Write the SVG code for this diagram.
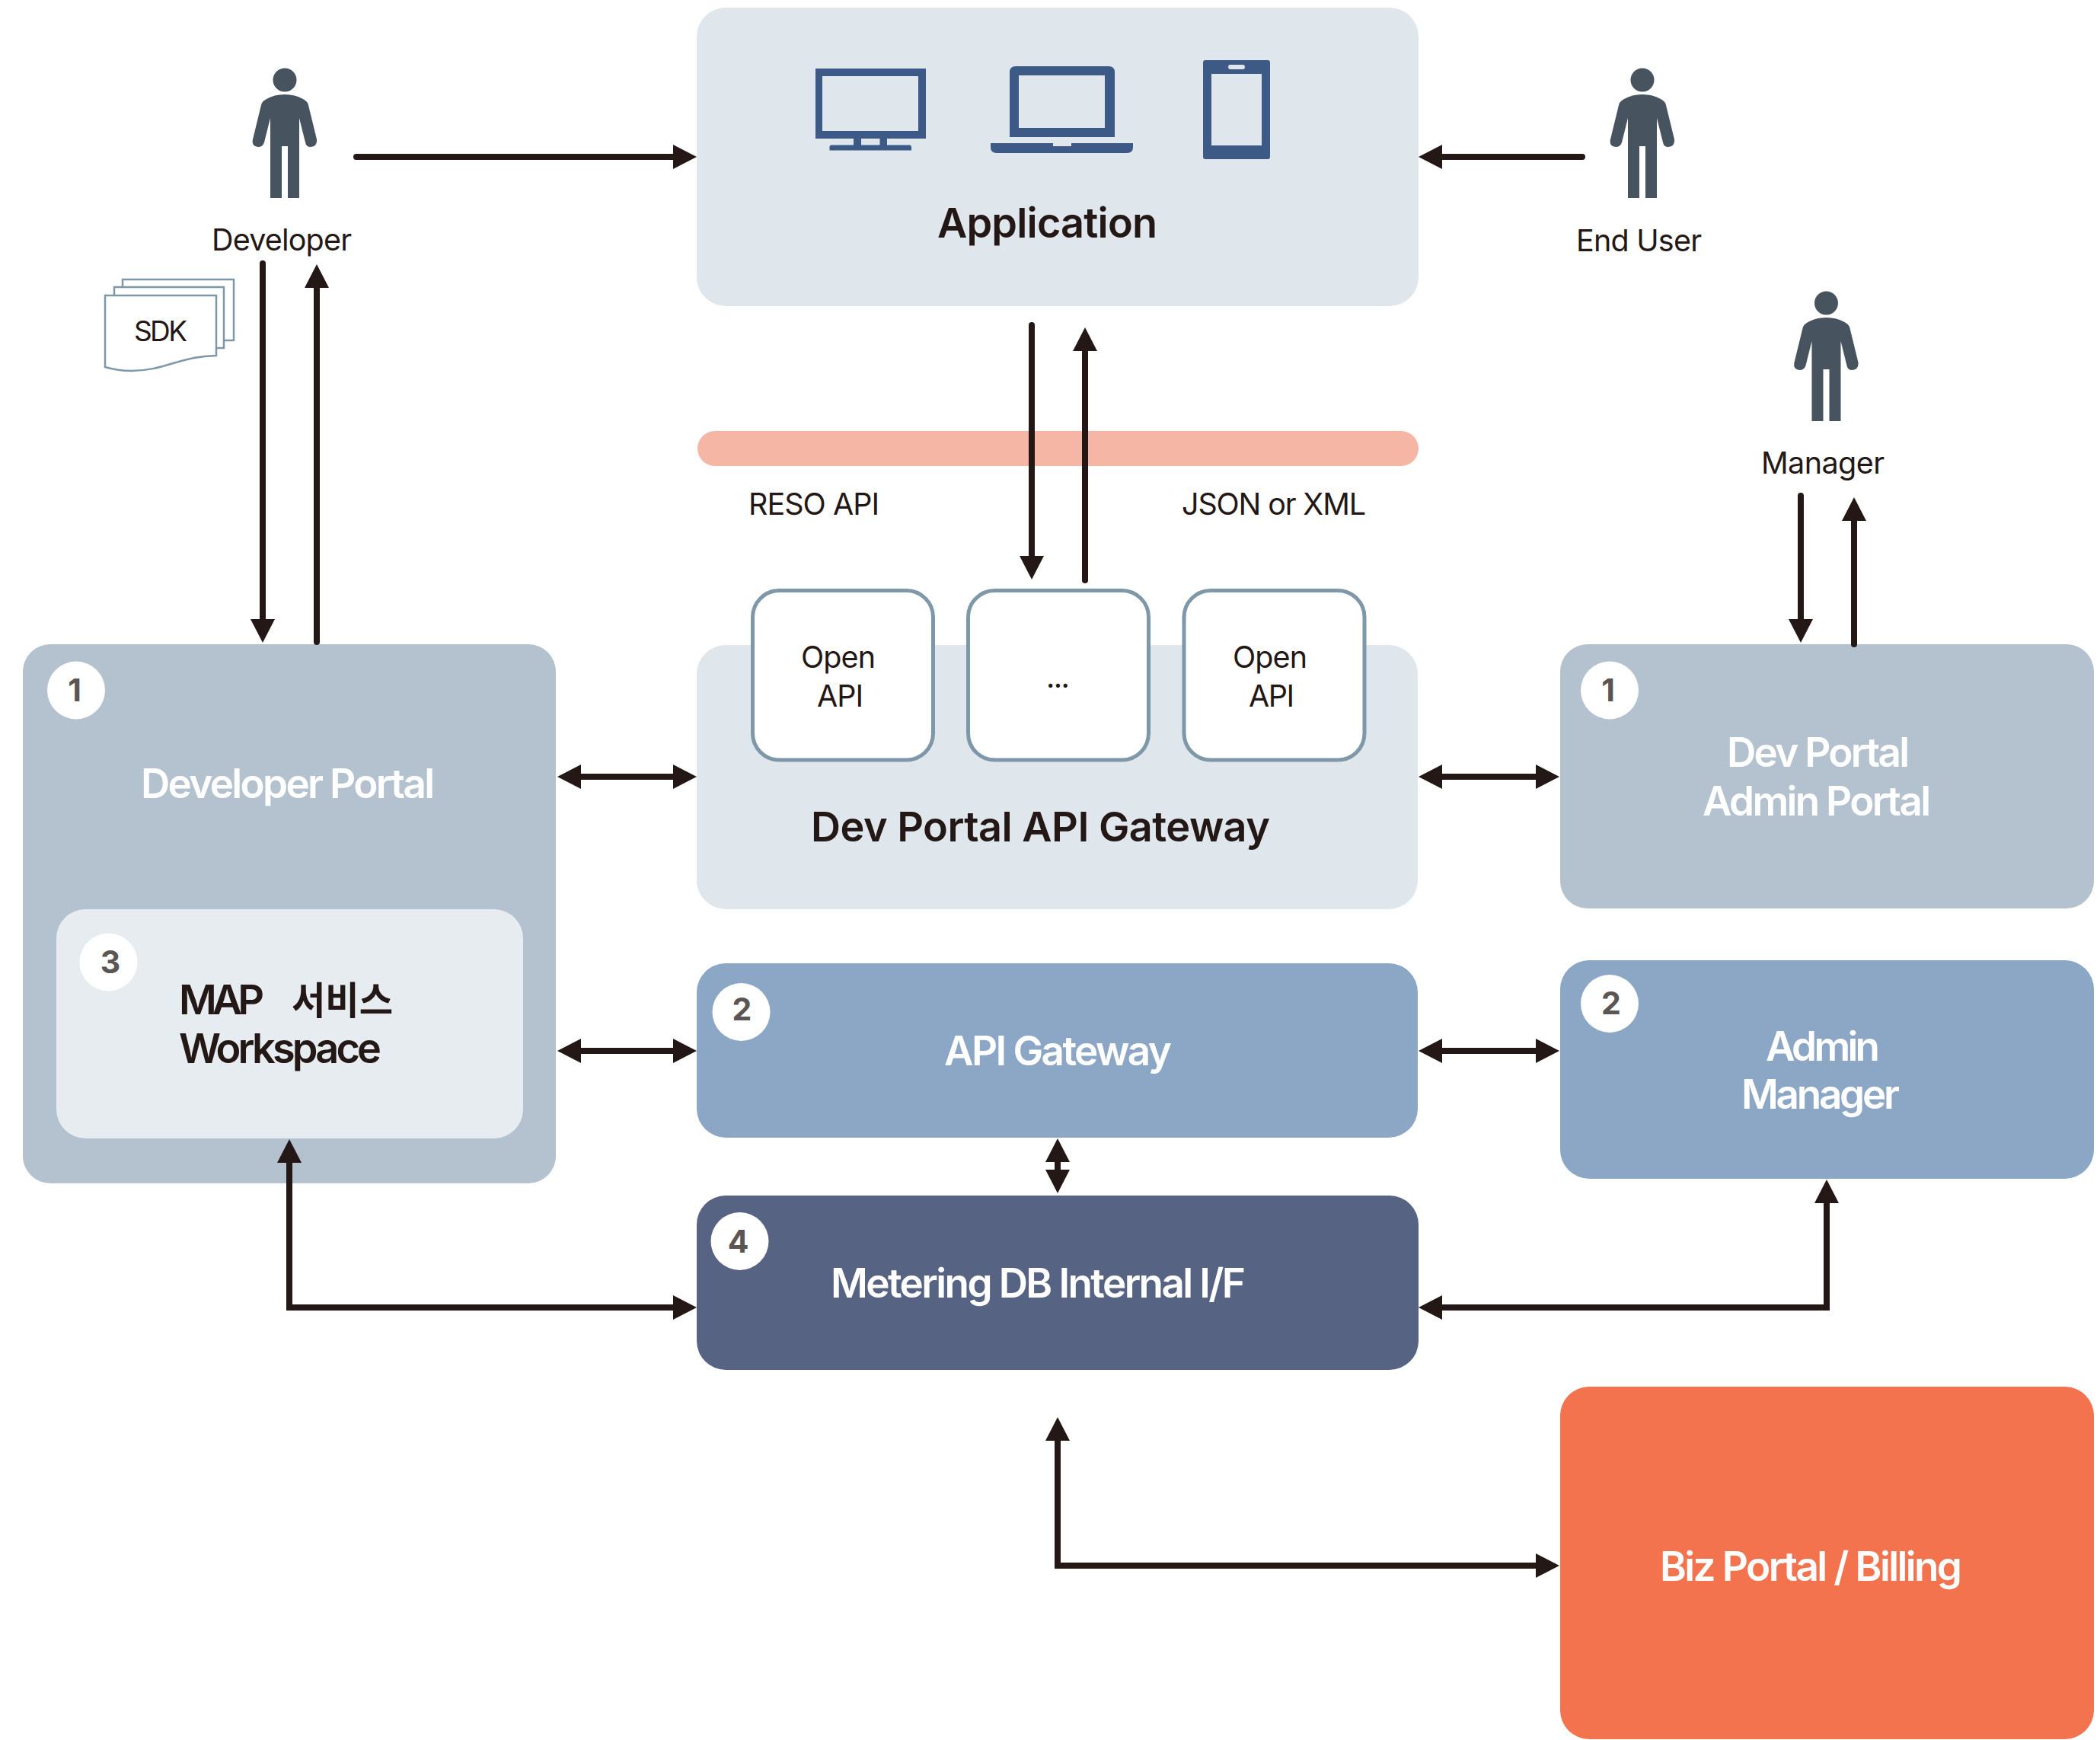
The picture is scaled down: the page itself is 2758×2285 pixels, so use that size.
<svg xmlns="http://www.w3.org/2000/svg" xmlns:xlink="http://www.w3.org/1999/xlink" width="2758" height="2285" viewBox="0 0 2758 2285">
<style>
text{font-family:Inter,"Noto Sans CJK KR","Liberation Sans",sans-serif;fill:#231815}
.s{font-size:39.500px;font-weight:400}
.t{font-size:54px;font-weight:600}
.w{fill:#fff;font-size:53px;font-weight:600}
.n{font-size:41px;font-weight:700;fill:#5b5554;text-anchor:middle}
.badge{fill:#fff}
.portal{fill:#b3c2ce}
.light{fill:#dfe6ec}
.blue{fill:#8ca7c5}
.api{fill:#fff;stroke:#7f98a9;stroke-width:5}
.doc{fill:#fff;stroke:#7f98a9;stroke-width:2.5}
.icon{fill:#3d5a87}
.c{fill:none;stroke:#231815;stroke-width:8}
.r{stroke-linecap:round}
.a{marker-end:url(#head)}
.b{marker-start:url(#head);marker-end:url(#head)}
</style>
<defs>
<marker id="head" markerUnits="userSpaceOnUse" viewBox="0 0 31 32" markerWidth="31" markerHeight="32" refX="1" refY="16" orient="auto-start-reverse"><path d="M0 0L31 16L0 32Z" fill="#231815"/></marker>
<g id="person" fill="#47545f"><circle cx="374" cy="105" r="15.500"/><path d="M355 260V155L347 187Q345 193 339 193Q330 192 332 183L343 138Q344 133 350 130Q360 124 374 124Q388 124 398 130Q404 133 405 138L416 183Q417 192 408 193Q402 193 401 187L393 155V260H378V192H370V260Z"/></g>
</defs>

<g id="node-application">
<rect class="light" x="915" y="10" width="948" height="392" rx="38"/>
<path class="icon" fill-rule="evenodd" d="M1071 90H1216V182H1165V190.500H1195Q1197 190.500 1197 193V197.500H1089.500V193Q1089.500 190.500 1092 190.500H1121V182H1071ZM1080 100V172H1206V100ZM1131 182V190.500H1155.500V182Z"/>
<path class="icon" fill-rule="evenodd" d="M1334 87H1456Q1464 87 1464 95V180H1326V95Q1326 87 1334 87ZM1338 99V168H1451V99ZM1301 188H1383V192H1407V188H1488V193Q1488 201 1480 201H1309Q1301 201 1301 193Z"/>
<path class="icon" fill-rule="evenodd" d="M1583 79H1665Q1668 79 1668 82V206Q1668 209 1665 209H1583Q1580 209 1580 206V82Q1580 79 1583 79ZM1591 97V191H1657V97ZM1616 85Q1613 85 1613 88Q1613 91 1616 91H1632Q1635 91 1635 88Q1635 85 1632 85Z"/>
<text class="t" x="1231" y="312" textLength="289" lengthAdjust="spacing">Application</text>
</g>

<g id="node-developer"><use xlink:href="#person" href="#person"/><text class="s" x="278" y="329" textLength="184" lengthAdjust="spacing">Developer</text></g>
<g id="node-end-user"><use xlink:href="#person" href="#person" x="1783"/><text class="s" x="2070" y="330" textLength="165" lengthAdjust="spacing">End User</text></g>
<g id="node-manager"><use xlink:href="#person" href="#person" x="2024.500" y="293"/><text class="s" x="2313" y="622" textLength="162" lengthAdjust="spacing">Manager</text></g>

<g id="node-sdk">
<rect class="doc" x="161" y="367" width="146" height="80"/>
<rect class="doc" x="150" y="377" width="144" height="80"/>
<path class="doc" d="M138 388H284V467C235 468 215 487 173 487C160 487 148 485 138 482Z"/>
<text x="176" y="448" font-size="37" textLength="70" lengthAdjust="spacing">SDK</text>
</g>

<g id="node-bar"><rect x="916" y="566" width="947" height="46" rx="23" fill="#f6b6a5"/></g>
<text class="s" x="983" y="676" textLength="172" lengthAdjust="spacing">RESO API</text>
<text class="s" x="1552" y="676" textLength="242" lengthAdjust="spacing">JSON or XML</text>

<g id="node-dev-portal">
<rect class="portal" x="30" y="846" width="700" height="708" rx="36"/>
<circle class="badge" cx="100" cy="906.500" r="38"/><text class="n" x="98" y="921">1</text>
<text class="w" x="185" y="1048" textLength="386" lengthAdjust="spacing">Developer Portal</text>
</g>
<g id="node-workspace">
<rect x="74" y="1194" width="613" height="301" rx="38" fill="#e6ecef"/>
<circle class="badge" cx="142.500" cy="1263.500" r="38"/><text class="n" x="145" y="1278">3</text>
<text class="t" y="1332"><tspan x="235" textLength="112" lengthAdjust="spacing">MAP</tspan> <tspan x="383" font-size="50" textLength="133" lengthAdjust="spacingAndGlyphs">서비스</tspan></text>
<text class="t" x="235" y="1396" textLength="266" lengthAdjust="spacing">Workspace</text>
</g>

<g id="node-api-portal-gateway">
<rect class="light" x="915" y="847" width="947" height="347" rx="38"/>
<rect class="api" x="988.500" y="775.500" width="237" height="222.500" rx="35"/>
<rect class="api" x="1271.500" y="775.500" width="237" height="222.500" rx="35"/>
<rect class="api" x="1555" y="775.500" width="237" height="222.500" rx="35"/>
<text class="s" x="1052" y="877" textLength="98" lengthAdjust="spacing">Open</text>
<text class="s" x="1073" y="928" textLength="61" lengthAdjust="spacing">API</text>
<text class="s" x="1374" y="903" textLength="31" lengthAdjust="spacing">...</text>
<text class="s" x="1619" y="877" textLength="98" lengthAdjust="spacing">Open</text>
<text class="s" x="1640" y="928" textLength="60" lengthAdjust="spacing">API</text>
<text class="t" x="1065" y="1105" textLength="603" lengthAdjust="spacing">Dev Portal API Gateway</text>
</g>

<g id="node-admin-portal">
<rect class="portal" x="2049" y="846" width="701" height="347" rx="36"/>
<circle class="badge" cx="2114" cy="906.500" r="38"/><text class="n" x="2112" y="921">1</text>
<text class="w" x="2268" y="1007" textLength="240" lengthAdjust="spacing">Dev Portal</text>
<text class="w" x="2236" y="1071" textLength="300" lengthAdjust="spacing">Admin Portal</text>
</g>

<g id="node-api-gateway">
<rect class="blue" x="915" y="1265" width="947" height="229" rx="38"/>
<circle class="badge" cx="973.500" cy="1329" r="38"/><text class="n" x="974.500" y="1340">2</text>
<text class="w" x="1240" y="1399" textLength="299" lengthAdjust="spacing">API Gateway</text>
</g>

<g id="node-admin-manager">
<rect class="blue" x="2049" y="1261" width="701" height="287" rx="38"/>
<circle class="badge" cx="2114" cy="1318" r="38"/><text class="n" x="2116" y="1332">2</text>
<text class="w" x="2319" y="1393" textLength="150" lengthAdjust="spacing">Admin</text>
<text class="w" x="2287" y="1456" textLength="208" lengthAdjust="spacing">Manager</text>
</g>

<g id="node-metering">
<rect x="915" y="1570" width="948" height="229" rx="38" fill="#566383"/>
<circle class="badge" cx="971.500" cy="1630" r="38"/><text class="n" x="969.500" y="1645">4</text>
<text class="w" x="1091" y="1704" textLength="545" lengthAdjust="spacing">Metering DB Internal I/F</text>
</g>

<g id="node-biz">
<rect x="2049" y="1821" width="701" height="463" rx="38" fill="#f2734e"/>
<text class="w" x="2180" y="2076" textLength="397" lengthAdjust="spacing">Biz Portal / Billing</text>
</g>

<g id="connectors">
<path class="c r a" d="M468 206H885"/>
<path class="c r a" d="M2078 206H1893"/>
<path class="c r a" d="M345 346V814"/>
<path class="c r a" d="M416 843V377"/>
<path class="c r a" d="M1355 427V731"/>
<path class="c r a" d="M1425 762V460"/>
<path class="c r a" d="M2365 651V814"/>
<path class="c r a" d="M2435 846V683"/>
<path class="c b" d="M762 1020H885"/>
<path class="c b" d="M1893 1020H2018"/>
<path class="c b" d="M762 1380H885"/>
<path class="c b" d="M1893 1380H2018"/>
<path class="c b" d="M1389 1525V1537"/>
<path class="c b" d="M380 1526V1717H885"/>
<path class="c b" d="M1893 1717H2399V1579"/>
<path class="c b" d="M1389 1891V2056H2018"/>
</g>
</svg>
